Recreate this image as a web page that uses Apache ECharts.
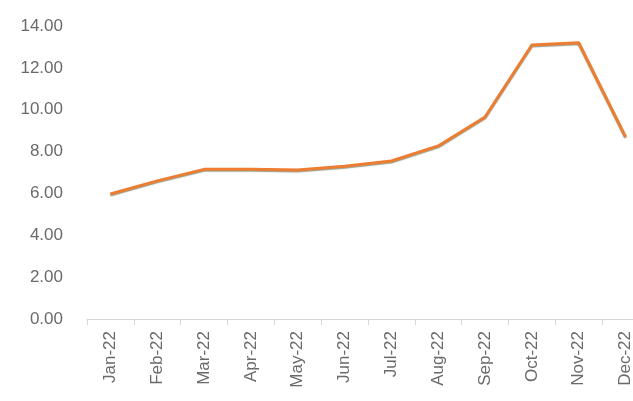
<!DOCTYPE html>
<html>
<head>
<meta charset="utf-8">
<script src="https://cdn.jsdelivr.net/npm/echarts@6/dist/echarts.min.js"></script>
<style>html,body{margin:0;padding:0;background:#fff;overflow:hidden}#c{width:660px;height:401px}</style>
</head>
<body>
<div id="c"></div>
<script>
const categories = ['Jan-22','Feb-22','Mar-22','Apr-22','May-22','Jun-22','Jul-22','Aug-22','Sep-22','Oct-22','Nov-22','Dec-22'];
const values = [5.97, 6.6, 7.15, 7.15, 7.12, 7.3, 7.55, 8.27, 9.65, 13.09, 13.2, 8.7];
const yTicks = { min: 0, max: 14, interval: 2 };

const chart = echarts.init(document.getElementById('c'), null, { renderer: 'canvas' });
chart.setOption({
  animation: false,
  grid: { left: 87, right: 11, top: 26, bottom: 82 },
  xAxis: {
    type: 'category',
    data: categories,
    boundaryGap: true,
    axisLine: { lineStyle: { color: '#d6d6d6', width: 1 } },
    axisTick: { show: true, length: 6, lineStyle: { color: '#d6d6d6' } },
    axisLabel: { rotate: 90, margin: 12, color: '#6a6a6a', fontSize: 17, fontFamily: 'Liberation Sans' }
  },
  yAxis: {
    type: 'value',
    min: yTicks.min, max: yTicks.max, interval: yTicks.interval,
    axisLine: { show: false },
    axisTick: { show: false },
    splitLine: { show: false },
    axisLabel: { margin: 24, color: '#6a6a6a', fontSize: 17, fontFamily: 'Liberation Sans', formatter: v => v.toFixed(2) }
  },
  series: [{
    type: 'line',
    data: values,
    symbol: 'none',
    lineStyle: { color: '#ED7D31', width: 3, shadowColor: 'rgba(110,120,90,0.7)', shadowBlur: 1, shadowOffsetY: 1 }
  }]
});
</script>
</body>
</html>
